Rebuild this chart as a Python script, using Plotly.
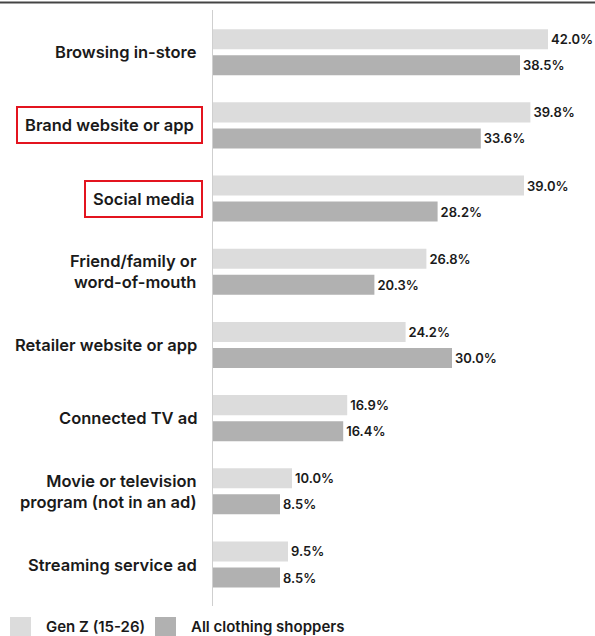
import plotly.graph_objects as go

categories = ["Browsing in-store", "Brand website or app", "Social media",
              "Friend/family or<br>word-of-mouth", "Retailer website or app",
              "Connected TV ad", "Movie or television<br>program (not in an ad)",
              "Streaming service ad"]
genz = [42.0, 39.8, 39.0, 26.8, 24.2, 16.9, 10.0, 9.5]
all_shoppers = [38.5, 33.6, 28.2, 20.3, 30.0, 16.4, 8.5, 8.5]
highlighted = ["Brand website or app", "Social media"]
series_names = ["Gen Z (15-26)", "All clothing shoppers"]
colors = ["#dcdcdc", "#b1b1b1"]

W, H = 595, 636
FONT = "Inter"
TXT = "#1a1a1a"

fig = go.Figure()
for name, vals, col in zip(series_names, [genz, all_shoppers], colors):
    fig.add_trace(go.Bar(
        y=categories, x=vals, orientation="h", name=name,
        marker=dict(color=col, line=dict(width=0)),
        texttemplate="%{x:.1f}%", textposition="outside",
        constraintext="none", cliponaxis=False,
        textfont=dict(family=FONT, size=13, color=TXT, weight=600),
        hoverinfo="skip",
    ))

x0px = 212
pxper = 8.0
ytop, ybot = 15.6, 601.1

fig.update_layout(
    width=W, height=H, margin=dict(l=0, r=0, t=0, b=0),
    paper_bgcolor="white", plot_bgcolor="white",
    barmode="group", bargap=0.289, bargroupgap=0.231,
    showlegend=False,
    xaxis=dict(domain=[x0px / W, 1], range=[0, (W - x0px) / pxper],
               visible=False, fixedrange=True),
    yaxis=dict(domain=[1 - ybot / H, 1 - ytop / H], autorange="reversed",
               showticklabels=False, showgrid=False, zeroline=False,
               showline=False, ticks=""),
)

# vertical axis line
fig.add_shape(type="line", xref="x", yref="paper", x0=0, x1=0,
              y0=1 - 10 / H, y1=1 - 606 / H,
              line=dict(color="#cfcfcf", width=2))
# top rule
fig.add_shape(type="line", xref="paper", yref="paper", x0=0, x1=1,
              y0=1 - 2.5 / H, y1=1 - 2.5 / H,
              line=dict(color="#444444", width=2))

for c in categories:
    hl = c in highlighted
    fig.add_annotation(
        x=0, y=c, xref="x", yref="y", xanchor="right", yanchor="middle",
        xshift=-9 if hl else -15, text=c, showarrow=False, align="right",
        font=dict(family=FONT, size=16.5, color=TXT, weight=600),
        bordercolor="#e3141f" if hl else None, borderwidth=2 if hl else 0,
        borderpad=7 if hl else 0,
    )

# manual legend
lx = [10, 155]
for i, (name, col) in enumerate(zip(series_names, colors)):
    fig.add_shape(type="rect", xref="paper", yref="paper",
                  x0=lx[i] / W, x1=(lx[i] + 21) / W,
                  y0=0, y1=1 - 617 / H, fillcolor=col, line=dict(width=0))
    fig.add_annotation(x=(lx[i] + 34) / W, y=0, xref="paper", yref="paper",
                       xanchor="left", yanchor="bottom", yshift=-2, text=name,
                       showarrow=False,
                       font=dict(family=FONT, size=15, color=TXT, weight=600))

fig.write_html("out.html")
